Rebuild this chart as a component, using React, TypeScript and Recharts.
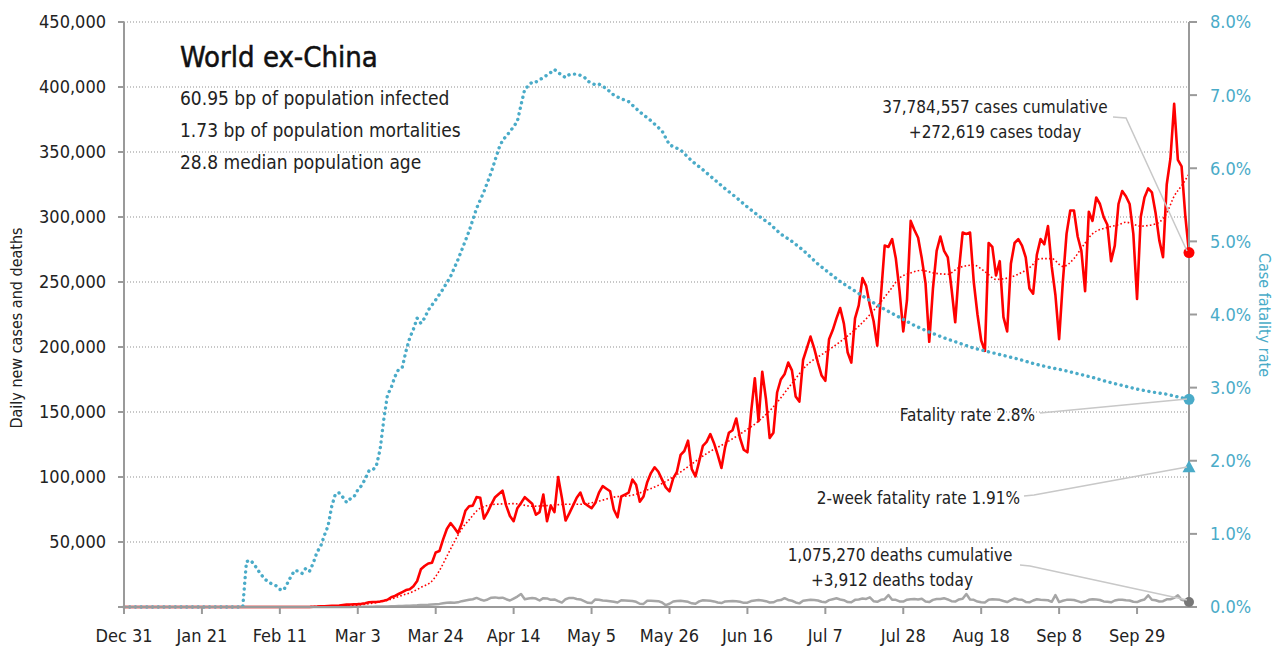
import React from 'react';
import { LineChart, Line, XAxis, YAxis, CartesianGrid, ReferenceDot } from 'recharts';

// x axis: day index, 0 = Dec 31
const tickDays = [0, 21, 42, 63, 84, 105, 126, 147, 168, 189, 210, 231, 252, 273];
const tickLabels = ['Dec 31', 'Jan 21', 'Feb 11', 'Mar 3', 'Mar 24', 'Apr 14', 'May 5', 'May 26', 'Jun 16', 'Jul 7', 'Jul 28', 'Aug 18', 'Sep 8', 'Sep 29'];

// daily new cases, thousands (one value per day, Dec 31 .. Oct 13)
const casesK = [
  0, 0, 0, 0, 0, 0, 0, 0, 0, 0, 0, 0, 0, 0, 0, 0, 0, 0, 0, 0, 0,
  0.01, 0.01, 0.01, 0.01, 0.01, 0.01, 0.01, 0.01, 0.01, 0.01, 0.01,
  0.03, 0.03, 0.03, 0.03, 0.03, 0.03, 0.03, 0.03, 0.03, 0.03, 0.03, 0.03, 0.03, 0.03, 0.03, 0.03, 0.03, 0.03, 0.03,
  0.2, 0.3, 0.5, 0.6, 0.8,
  0.9, 1.0, 1.2, 1.5,
  1.8, 1.9, 2.1, 2.2, 2.5, 2.9, 3.6, 3.9, 3.9, 4.2,
  4.8, 5.6, 7.5, 8.5, 10, 11.5, 13, 13.6, 16, 20,
  29, 31.5, 33.5, 34, 42, 43, 52, 60, 64.5, 61,
  57, 64, 74, 77.5, 78, 84.5, 84, 68, 73, 79,
  84.5, 87, 89.5, 78, 70, 66, 76, 80, 84.5, 82,
  79.5, 71, 73, 86.5, 66, 78, 73, 100, 84, 66.5,
  72, 78, 84, 88, 80, 78, 76, 80, 88, 93,
  91, 89, 75, 69, 85, 86.5, 88, 98, 94, 81,
  85, 96, 103, 107.5, 104, 98, 92, 89, 99, 104,
  117, 120, 128, 106, 100.5, 112, 124, 127, 133, 126,
  117, 107, 123, 134, 136, 145, 130, 121, 119, 150,
  176, 143, 181, 160, 130, 134, 165, 175, 179, 188,
  182, 162, 158, 190, 199, 208, 199, 188, 178, 174,
  206, 213, 222, 230, 218, 196, 188, 222, 232, 253,
  247, 232, 220, 201, 240, 278, 277, 283, 268, 243,
  212, 236, 297, 290, 284, 268, 249, 204, 245, 274,
  285, 274, 269, 245, 219, 259, 288, 287, 288, 250,
  225, 205, 197, 280, 277, 255, 266, 223, 212, 264,
  280, 283, 278, 269, 245, 241, 271, 283, 279, 293,
  262, 240, 206, 250, 287, 305, 305, 285, 274, 243,
  304, 297, 315, 310, 300, 294, 266, 278, 310, 320,
  316, 310, 287, 237, 300, 315, 322, 319, 303, 282,
  269, 325, 345, 387, 344, 339, 301, 272.619,
];

// daily new deaths, thousands
const deathsK = [
  0, 0, 0, 0, 0, 0, 0, 0, 0, 0, 0, 0, 0, 0, 0, 0, 0, 0, 0, 0,
  0, 0, 0, 0, 0, 0, 0, 0, 0, 0, 0, 0, 0, 0, 0, 0, 0, 0, 0, 0,
  0, 0, 0, 0, 0, 0, 0, 0, 0, 0, 0, 0, 0, 0, 0, 0,
  0.02, 0.03, 0.05, 0.06, 0.07, 0.08, 0.1, 0.1, 0.12, 0.15,
  0.2, 0.25, 0.3, 0.35, 0.4, 0.45, 0.5, 0.6, 0.7, 0.8,
  0.9, 1.0, 1.2, 1.3, 1.5, 1.6, 1.7, 2.0, 2.2, 2.4,
  2.8, 3.2, 3.4, 3.3, 3.6, 4.5, 5.0, 5.5, 6.0, 7.0,
  5.8, 4.9, 5.8, 7.2, 7.4, 7.0, 7.2, 6.0, 5.0, 6.5,
  8.0, 10.0, 6.0, 6.5, 7.0, 6.5, 5.0, 6.8, 6.6, 5.5,
  5.8, 4.5, 3.4, 6.0, 7.0, 7.0, 6.2, 5.8, 4.5, 3.2,
  3.0, 5.8, 5.5, 5.0, 4.8, 4.5, 4.0, 3.5, 5.2, 5.0,
  4.8, 4.6, 4.0, 2.5, 2.4, 4.8, 4.9, 4.7, 4.5, 3.5,
  1.4, 2.5, 4.2, 4.6, 4.8, 4.5, 4.0, 2.8, 2.5, 4.3,
  5.2, 5.0, 4.8, 4.3, 3.5, 3.0, 4.3, 4.5, 4.6, 4.4,
  4.0, 3.2, 3.3, 4.6, 5.0, 5.3, 5.0, 4.5, 3.5, 3.6,
  5.0, 5.3, 6.8, 5.4, 4.8, 3.5, 2.8, 4.8, 5.2, 5.6,
  5.4, 5.0, 4.0, 3.6, 5.3, 6.0, 6.7, 5.8, 5.2, 3.8,
  3.6, 5.5, 5.8, 6.5, 6.2, 7.4, 4.5, 4.0, 5.5, 6.0,
  9.2, 5.5, 5.5, 4.3, 4.2, 5.6, 6.0, 6.2, 5.8, 6.4,
  4.3, 3.8, 5.5, 6.2, 6.2, 6.8, 5.8, 4.5, 4.2, 5.8,
  6.3, 10.0, 5.8, 5.5, 4.2, 3.7, 3.5, 5.6, 6.0, 5.8,
  5.5, 4.6, 3.8, 5.3, 6.6, 5.8, 5.6, 3.9, 3.6, 5.0,
  6.0, 5.6, 5.4, 5.2, 4.0, 9.2, 3.8, 4.8, 5.5, 5.5,
  5.4, 4.5, 3.6, 4.2, 5.5, 6.0, 5.8, 5.4, 4.3, 4.0,
  3.6, 5.0, 5.5, 5.6, 5.2, 5.0, 4.0, 3.8, 5.0, 5.8,
  9.0, 5.6, 5.2, 4.2, 4.5, 5.9, 6.0, 7.0, 9.0, 5.5,
  4.8, 3.912,
];

// smoothed cases trend, thousands
const trendDays = [0, 55, 60, 63, 66, 70, 75, 78, 80, 83, 85, 87, 89, 91, 93, 96, 100, 105, 110, 114, 119, 123, 128, 132, 137, 141, 145, 148, 153, 157, 162, 166, 171, 175, 180, 184, 189, 193, 198, 202, 206, 209, 212, 215, 218, 222, 225, 229, 232, 235, 238, 241, 244, 247, 250, 253, 256, 258, 261, 265, 268, 270, 274, 277, 279, 281, 283, 285, 287];
const trendK = [0, 0.3, 1.0, 1.5, 2.5, 4.5, 9, 12, 15, 20, 28, 39, 50, 60, 67, 76, 79, 79.5, 77.5, 78, 79, 79, 81.5, 84.5, 86, 90, 95, 100, 110, 118, 126, 133, 143, 154, 172, 186, 196, 204, 216, 228, 242, 253, 257, 259, 257, 256, 261, 263, 258, 252, 253, 256, 261, 268, 268, 262, 268, 276, 287, 292, 294, 296, 293, 294, 296, 303, 316, 324, 333];

// case fatality rate, percent
const cfrDays = [
  0, 32,
  33, 34, 35, 36, 37, 38, 39, 40, 41, 42, 43, 44, 45, 46, 47, 48, 49, 50, 51, 52, 53, 54, 55, 56, 57,
  58, 59, 60, 61, 62, 63, 64, 65, 66, 67, 68, 69, 70, 71, 72, 73, 74, 75, 76, 77, 78, 79, 80, 81, 82,
  84, 86, 88, 90, 91, 93, 95, 97, 99, 101,
  102, 104, 106, 107, 108, 110, 111, 113, 115, 116,
  118, 119, 120, 122, 124, 125, 127, 128, 130, 132,
  134, 136, 139, 142, 145, 147, 150, 153, 156, 159,
  162, 165, 168, 171, 174, 177, 180, 183, 187, 190,
  193, 197, 201, 205, 209, 213, 217, 221, 225, 229,
  233, 237, 241, 245, 249, 253, 257, 261, 265, 269,
  273, 277, 281, 285, 287,
];
const cfrPct = [
  0, 0,
  0.62, 0.64, 0.59, 0.51, 0.44, 0.38, 0.34, 0.31, 0.29, 0.24, 0.23, 0.32, 0.42, 0.5, 0.49, 0.46, 0.53, 0.49, 0.6, 0.75, 0.83, 0.98, 1.11, 1.38, 1.55,
  1.56, 1.5, 1.43, 1.48, 1.51, 1.6, 1.66, 1.75, 1.86, 1.87, 1.93, 2.15, 2.56, 2.9, 3.0, 3.15, 3.25, 3.28, 3.5, 3.68, 3.8, 3.95, 3.88, 3.95, 4.06,
  4.2, 4.35, 4.52, 4.75, 4.88, 5.14, 5.45, 5.68, 5.95, 6.27,
  6.38, 6.5, 6.64, 6.87, 7.08, 7.18, 7.18, 7.24, 7.31, 7.35,
  7.27, 7.24, 7.28, 7.29, 7.25, 7.19, 7.14, 7.15, 7.09, 7.0,
  6.95, 6.91, 6.77, 6.65, 6.51, 6.32, 6.25, 6.1, 5.98, 5.85,
  5.72, 5.6, 5.47, 5.35, 5.24, 5.1, 5.0, 4.88, 4.69, 4.57,
  4.45, 4.32, 4.19, 4.07, 3.96, 3.85, 3.76, 3.68, 3.61, 3.54,
  3.49, 3.44, 3.39, 3.33, 3.28, 3.24, 3.19, 3.14, 3.08, 3.03,
  2.98, 2.94, 2.91, 2.86, 2.84,
];

const twoWeekCfr = 1.91;

const leftTicks = [0, 50000, 100000, 150000, 200000, 250000, 300000, 350000, 400000, 450000];
const rightTicks = [0, 1, 2, 3, 4, 5, 6, 7, 8];

const RED = '#ff0000';
const BLUE = '#4aabc8';
const GREY = '#a6a6a6';
const AXIS = '#9a9a9a';
const FONT = "'DejaVu Sans Condensed', 'Liberation Sans Narrow', 'DejaVu Sans', sans-serif";

const daily = casesK.map((c, i) => ({ day: i, cases: c * 1000, deaths: deathsK[i] * 1000 }));
const trend = trendDays.map((d, i) => ({ day: d, trend: trendK[i] * 1000 }));
const cfr = cfrDays.map((d, i) => ({ day: d, rate: cfrPct[i] }));
const last = daily[daily.length - 1];
const lastRate = cfr[cfr.length - 1];

const Triangle = (props: any) => {
  const { cx, cy } = props;
  return <polygon points={`${cx},${cy - 7} ${cx - 6.5},${cy + 5} ${cx + 6.5},${cy + 5}`} fill={BLUE} />;
};

const fmt = (v: number) => (v === 0 ? '' : v.toLocaleString('en-US'));

const App: React.FC = () => (
  <div style={{ position: 'absolute', left: 0, top: 0, width: 1284, height: 647, background: '#fff', fontFamily: FONT, fontStretch: 'condensed' }}>
    <LineChart width={1284} height={647} data={daily} margin={{ top: 22, right: 0, bottom: 0, left: 0 }}>
      <CartesianGrid yAxisId="left" vertical={false} stroke="#b5b5b5" strokeDasharray="1 2" strokeWidth={1.3} />
      <XAxis
        dataKey="day"
        type="number"
        domain={[0, 287]}
        ticks={tickDays}
        tickFormatter={(v: number) => tickLabels[tickDays.indexOf(v)]}
        height={40}
        tickSize={7}
        tickMargin={15}
        axisLine={{ stroke: AXIS, strokeWidth: 2 }}
        tickLine={{ stroke: AXIS, strokeWidth: 2 }}
        tick={{ fontSize: 18, fill: '#222' }}
        interval={0}
      />
      <YAxis
        yAxisId="left"
        domain={[0, 450000]}
        ticks={leftTicks}
        tickFormatter={fmt}
        width={124}
        tickSize={6}
        tickMargin={12}
        axisLine={{ stroke: AXIS, strokeWidth: 2 }}
        tickLine={{ stroke: AXIS, strokeWidth: 2 }}
        tick={{ fontSize: 18, fill: '#222' }}
        interval={0}
      />
      <YAxis
        yAxisId="right"
        orientation="right"
        domain={[0, 8]}
        ticks={rightTicks}
        tickFormatter={(v: number) => `${v.toFixed(1)}%`}
        width={95}
        tickSize={8}
        tickMargin={13}
        axisLine={{ stroke: AXIS, strokeWidth: 2 }}
        tickLine={{ stroke: AXIS, strokeWidth: 2 }}
        tick={{ fontSize: 18, fill: BLUE }}
        interval={0}
      />
      <Line yAxisId="left" dataKey="deaths" stroke={GREY} strokeWidth={2.5} dot={false} activeDot={false} isAnimationActive={false} strokeLinejoin="round" />
      <Line yAxisId="left" data={trend} dataKey="trend" type="monotone" stroke={RED} strokeWidth={1.6} strokeDasharray="1.6 2.2" dot={false} activeDot={false} isAnimationActive={false} />
      <Line yAxisId="left" dataKey="cases" stroke={RED} strokeWidth={2.6} dot={false} activeDot={false} isAnimationActive={false} strokeLinejoin="round" />
      <Line yAxisId="right" data={cfr} dataKey="rate" stroke={BLUE} strokeWidth={3.4} strokeDasharray="0.1 5.6" strokeLinecap="round" dot={false} activeDot={false} isAnimationActive={false} />
      <ReferenceDot yAxisId="left" x={last.day} y={last.cases} r={5.5} fill={RED} stroke="none" ifOverflow="visible" />
      <ReferenceDot yAxisId="left" x={last.day} y={last.deaths} r={5} fill="#777" stroke="none" ifOverflow="visible" />
      <ReferenceDot yAxisId="right" x={lastRate.day} y={lastRate.rate} r={5.5} fill={BLUE} stroke="none" ifOverflow="visible" />
      <ReferenceDot yAxisId="right" x={last.day} y={twoWeekCfr} r={6} shape={Triangle} ifOverflow="visible" />
    </LineChart>
    <svg width={1284} height={647} style={{ position: 'absolute', left: 0, top: 0, pointerEvents: 'none' }}>
      <text x={180} y={67} fontSize={29} fill="#111" stroke="#111" strokeWidth={0.5}>World ex-China</text>
      <text x={180} y={105} fontSize={19} fill="#222">60.95 bp of population infected</text>
      <text x={180} y={137} fontSize={19} fill="#222">1.73 bp of population mortalities</text>
      <text x={180} y={169} fontSize={19} fill="#222">28.8 median population age</text>

      <text transform="translate(22,328) rotate(-90)" textAnchor="middle" fontSize={16} fill="#222">Daily new cases and deaths</text>
      <text transform="translate(1259,315) rotate(90)" textAnchor="middle" fontSize={16} fill={BLUE}>Case fatality rate</text>

      <g fill="none" stroke="#c8c8c8" strokeWidth={1.5}>
        <polyline points="1113,117 1126,118 1187,251" />
        <polyline points="1040,413 1187,399" />
        <polyline points="1024,496 1034,495 1187,467" />
        <polyline points="1020,565 1030,566 1187,600" />
      </g>
      <g fontSize={17} fill="#222">
        <text x={995} y={113} textAnchor="middle">37,784,557 cases cumulative</text>
        <text x={995} y={138} textAnchor="middle">+272,619 cases today</text>
        <text x={1035} y={421} textAnchor="end">Fatality rate 2.8%</text>
        <text x={1020} y={504} textAnchor="end">2-week fatality rate 1.91%</text>
        <text x={900} y={561} textAnchor="middle">1,075,270 deaths cumulative</text>
        <text x={892} y={586} textAnchor="middle">+3,912 deaths today</text>
      </g>
    </svg>
  </div>
);

export default App;
